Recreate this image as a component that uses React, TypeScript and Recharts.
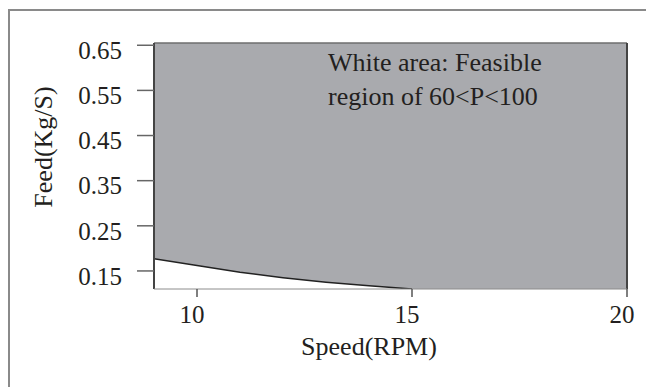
import {
  ComposedChart,
  Area,
  XAxis,
  YAxis,
  ReferenceArea,
  ReferenceLine,
} from 'recharts';

// boundary of the feasible (white) region
const speedValues = [9, 10, 11, 12, 13, 14, 15];
const feedValues = [0.177, 0.162, 0.147, 0.135, 0.125, 0.117, 0.11];

const xTicks = [10, 15, 20];
const yTicks = [0.15, 0.25, 0.35, 0.45, 0.55, 0.65];

const X_DOMAIN: [number, number] = [9, 20];
const Y_DOMAIN: [number, number] = [0.11, 0.655];

const noteLines = ['White area: Feasible', 'region of 60<P<100'];

const curve = speedValues.map((s, i) => ({ speed: s, feed: feedValues[i] }));

const FONT = '"Liberation Serif", "Times New Roman", serif';
const INK = '#231f20';
const SHADE = '#a9aaae';

function YTick({ x, y, payload }: any) {
  return (
    <text x={x} y={y + 5} dy="0.35em" textAnchor="end" fontFamily={FONT} fontSize={25} fill={INK}>
      {Number(payload.value).toFixed(2)}
    </text>
  );
}

function XTick({ x, y, payload }: any) {
  return (
    <text x={x - 5} y={y} dy="0.71em" textAnchor="middle" fontFamily={FONT} fontSize={25} fill={INK}>
      {payload.value}
    </text>
  );
}

function YTitle({ viewBox }: any) {
  const vb = viewBox || { x: 0, y: 43, width: 154, height: 246 };
  const cx = vb.x + 43;
  const cy = vb.y + vb.height / 2 - 19;
  return (
    <text
      x={cx}
      y={cy}
      dy="0.35em"
      transform={`rotate(-90 ${cx} ${cy})`}
      textAnchor="middle"
      fontFamily={FONT}
      fontSize={26}
      fill={INK}
    >
      Feed(Kg/S)
    </text>
  );
}

function XTitle({ viewBox }: any) {
  const vb = viewBox || { x: 154, y: 289, width: 473, height: 70 };
  return (
    <text x={vb.x + 215} y={vb.y + 66} textAnchor="middle" fontFamily={FONT} fontSize={26} fill={INK}>
      Speed(RPM)
    </text>
  );
}

function Note({ viewBox }: any) {
  const vb = viewBox || { x: 154, y: 43 };
  return (
    <text fontFamily={FONT} fontSize={26} fill={INK}>
      {noteLines.map((line, i) => (
        <tspan key={line} x={vb.x + 174} y={vb.y + 27.5 + i * 34.5}>
          {line}
        </tspan>
      ))}
    </text>
  );
}

export default function App() {
  return (
    <div style={{ position: 'absolute', left: 0, top: 0, width: 646, height: 387, overflow: 'hidden' }}>
      {/* figure frame, runs off the right and bottom edges */}
      <div
        style={{
          position: 'absolute',
          left: 8,
          top: 9,
          width: 700,
          height: 500,
          borderLeft: '2px solid #8a8a8a',
          borderTop: '2px solid #8a8a8a',
        }}
      />
      <div style={{ position: 'absolute', left: 0, top: 0 }}>
        <ComposedChart width={646} height={387} data={curve} margin={{ top: 43, right: 19, bottom: 28, left: 0 }}>
          <XAxis
            type="number"
            dataKey="speed"
            domain={X_DOMAIN}
            ticks={xTicks}
            allowDataOverflow
            height={70}
            tickSize={8}
            tickMargin={8}
            stroke="#8c8c8c"
            tickLine={{ stroke: '#555555', strokeWidth: 1.5 }}
            tick={<XTick />}
            label={<XTitle />}
          />
          <YAxis
            type="number"
            domain={Y_DOMAIN}
            ticks={yTicks}
            allowDataOverflow
            width={154}
            tickSize={17}
            tickMargin={15}
            axisLine={false}
            tickLine={{ stroke: '#666666', strokeWidth: 1.5 }}
            tick={<YTick />}
            label={<YTitle />}
          />
          <ReferenceArea
            x1={X_DOMAIN[0]}
            x2={X_DOMAIN[1]}
            y1={Y_DOMAIN[0]}
            y2={Y_DOMAIN[1]}
            fill={SHADE}
            fillOpacity={1}
            stroke="none"
            label={<Note />}
          />
          <Area
            type="linear"
            dataKey="feed"
            baseValue={Y_DOMAIN[0]}
            fill="#ffffff"
            fillOpacity={1}
            stroke="#222222"
            strokeWidth={1.5}
            dot={false}
            activeDot={false}
            isAnimationActive={false}
          />
          <ReferenceLine y={Y_DOMAIN[1]} stroke="#6e6e6e" strokeWidth={1.5} />
          <ReferenceLine x={X_DOMAIN[0]} stroke="#444444" strokeWidth={2} />
          <ReferenceLine x={X_DOMAIN[1]} stroke="#444444" strokeWidth={2} />
        </ComposedChart>
      </div>
    </div>
  );
}
